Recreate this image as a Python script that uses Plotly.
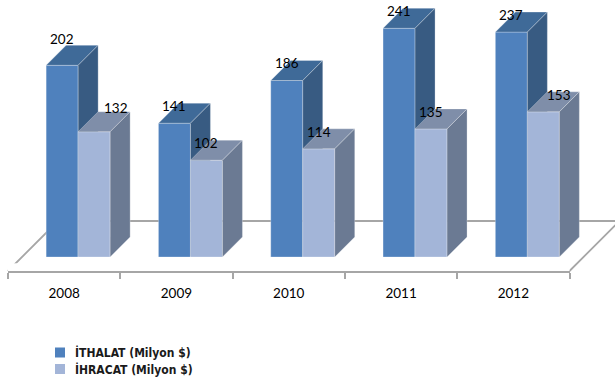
import plotly.graph_objects as go

# ---- data ----
years = ["2008", "2009", "2010", "2011", "2012"]
ithalat = [202, 141, 186, 241, 237]
ihracat = [132, 102, 114, 135, 153]
series_names = ["İTHALAT (Milyon $)", "İHRACAT (Milyon $)"]

# ---- styling / geometry (pixels) ----
W, H = 615, 385
PX_CAT = 112.3          # pixels per category
PX_VAL = 0.949          # pixels per value unit
PLANE_LEFT = 22         # pixel x of category boundary -0.5 in bar plane
BASE_Y = 257            # pixel y (from top) of value 0 in bar plane
BAR_PX = 32
DEPTH_PX = 20
FLOOR_FRONT_PX = 14
FLOOR_BACK_PX = 36

xr0 = -0.5 - PLANE_LEFT / PX_CAT
xr1 = xr0 + W / PX_CAT
yr0 = -(H - BASE_Y) / PX_VAL
yr1 = yr0 + H / PX_VAL

bw = BAR_PX / PX_CAT
ddx = DEPTH_PX / PX_CAT
ddy = DEPTH_PX / PX_VAL

colors = {
    "ith": {"front": "#4F81BD", "top": "#3F6A98", "side": "#385B82"},
    "ihr": {"front": "#A3B5D8", "top": "#7F8EA9", "side": "#6B7A93"},
}
edge = dict(color="rgba(255,255,255,0.35)", width=0.8)
GRID = "#A6A6A6"
FONT = "Lato, Open Sans, sans-serif"
LEG_FONT = "DejaVu Sans Condensed, Liberation Sans Narrow, sans-serif"

# label nudges (pixels) for labels moved in the original
lbl_dx = {"ith": [0, 0, 0, 0, 0], "ihr": [22, 0, 0, 0, 16]}
lbl_dy = {"ith": [26, 17, 17, 17, 17], "ihr": [24, 17, 17, 17, 17]}

fig = go.Figure()


def poly(xs, ys, color):
    fig.add_trace(go.Scatter(
        x=xs + [xs[0]], y=ys + [ys[0]], mode="lines", fill="toself",
        fillcolor=color, line=edge, hoverinfo="skip", showlegend=False))


# floor
fx, fy = FLOOR_FRONT_PX / PX_CAT, FLOOR_FRONT_PX / PX_VAL
bx, by = FLOOR_BACK_PX / PX_CAT, FLOOR_BACK_PX / PX_VAL
n = len(years)
fl_x = [-0.5 - fx, n - 0.5 - fx, n - 0.5 + bx, -0.5 + bx, -0.5 - fx]
fl_y = [-fy, -fy, by, by, -fy]
fig.add_trace(go.Scatter(x=fl_x, y=fl_y, mode="lines",
                         line=dict(color=GRID, width=1.8),
                         hoverinfo="skip", showlegend=False))


def bar3d(x0, x1, v, c):
    poly([x0, x1, x1, x0], [0, 0, v, v], c["front"])
    poly([x0, x1, x1 + ddx, x0 + ddx], [v, v, v + ddy, v + ddy], c["top"])
    poly([x1, x1 + ddx, x1 + ddx, x1], [0, ddy, v + ddy, v], c["side"])


for i in range(n):
    bar3d(i - bw, i, ithalat[i], colors["ith"])
    bar3d(i, i + bw, ihracat[i], colors["ihr"])

annotations = []
for i in range(n):
    annotations.append(dict(
        x=i - bw / 2, y=ithalat[i], xref="x", yref="y", text=str(ithalat[i]),
        showarrow=False, xshift=lbl_dx["ith"][i], yshift=lbl_dy["ith"][i],
        font=dict(family=FONT, size=13.5, color="#000000")))
    annotations.append(dict(
        x=i + bw / 2, y=ihracat[i], xref="x", yref="y", text=str(ihracat[i]),
        showarrow=False, xshift=lbl_dx["ihr"][i], yshift=lbl_dy["ihr"][i],
        font=dict(family=FONT, size=13.5, color="#000000")))

# category axis along the floor front edge
fig.add_trace(go.Scatter(x=years, y=[0.5] * n, xaxis="x2", yaxis="y2",
                         mode="markers", marker=dict(opacity=0),
                         hoverinfo="skip", showlegend=False))

floor_front_left = PLANE_LEFT - FLOOR_FRONT_PX
floor_front_right = floor_front_left + n * PX_CAT
floor_front_y = BASE_Y + FLOOR_FRONT_PX

# legend (manual, Excel style)
leg_sq_x = 55
leg_rows = [352.5, 369]
shapes = []
for k, (nm, key) in enumerate(zip(series_names, ["ith", "ihr"])):
    cy = leg_rows[k]
    shapes.append(dict(type="rect", xref="paper", yref="paper",
                       x0=leg_sq_x / W, x1=(leg_sq_x + 10) / W,
                       y0=1 - (cy - 5) / H, y1=1 - (cy + 5) / H,
                       fillcolor=colors[key]["front"], line=dict(width=0)))
    annotations.append(dict(
        x=73 / W, y=1 - cy / H, xref="paper", yref="paper", text=nm,
        showarrow=False, xanchor="left", yanchor="middle",
        font=dict(family=LEG_FONT, size=12, color="#1A1A1A", weight="bold")))

fig.update_layout(
    width=W, height=H,
    margin=dict(l=0, r=0, t=0, b=0),
    paper_bgcolor="white", plot_bgcolor="white",
    showlegend=False,
    xaxis=dict(range=[xr0, xr1], visible=False, domain=[0, 1]),
    yaxis=dict(range=[yr0, yr1], visible=False, domain=[0, 1]),
    xaxis2=dict(type="category", categoryorder="array", categoryarray=years,
                range=[-0.5, n - 0.5], anchor="y2",
                domain=[floor_front_left / W, floor_front_right / W],
                showline=True, linecolor=GRID, linewidth=1.8,
                ticks="outside", tickson="boundaries", ticklen=6,
                tickcolor=GRID, tickwidth=1.5, showgrid=False,
                zeroline=False, ticklabelstandoff=9,
                tickfont=dict(family=FONT, size=13.5, color="#000000")),
    yaxis2=dict(domain=[(H - floor_front_y) / H, (H - floor_front_y) / H + 0.02],
                range=[0, 1], visible=False, anchor="x2"),
    annotations=annotations,
    shapes=shapes,
)

fig.write_html("out.html")
